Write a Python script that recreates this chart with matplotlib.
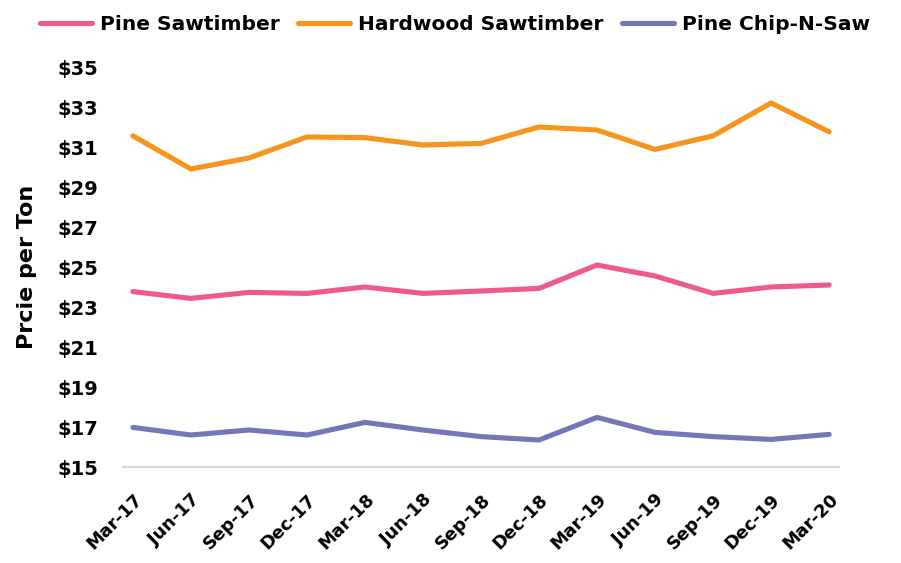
import matplotlib.pyplot as plt

# Quarterly stumpage prices
quarters = ['Mar-17', 'Jun-17', 'Sep-17', 'Dec-17', 'Mar-18', 'Jun-18', 'Sep-18',
            'Dec-18', 'Mar-19', 'Jun-19', 'Sep-19', 'Dec-19', 'Mar-20']
pine_saw = [23.77, 23.43, 23.73, 23.68, 24.00, 23.68, 23.80, 23.93, 25.10, 24.55, 23.68, 24.00, 24.10]
hardwood_saw = [31.56, 29.90, 30.45, 31.50, 31.47, 31.10, 31.18, 32.00, 31.85, 30.88, 31.56, 33.20, 31.76]
pine_cns = [16.98, 16.60, 16.85, 16.60, 17.23, 16.85, 16.52, 16.35, 17.48, 16.73, 16.52, 16.38, 16.63]

plt.rcParams['font.family'] = ['DejaVu Sans']
plt.rcParams['font.weight'] = 'bold'

fig = plt.figure(figsize=(9.01, 5.63), dpi=100)
ax = fig.add_axes([123 / 901, 96 / 563, 716 / 901, 400 / 563])

x = range(len(quarters))
ax.plot(x, pine_saw, color='#f05a8a', lw=3.7, solid_capstyle='round', label='Pine Sawtimber')
ax.plot(x, hardwood_saw, color='#f7941d', lw=3.7, solid_capstyle='round', label='Hardwood Sawtimber')
ax.plot(x, pine_cns, color='#7476b8', lw=3.7, solid_capstyle='round', label='Pine Chip-N-Saw')

ax.set_xlim(-0.17, 12.17)
ax.set_ylim(15, 35)
ax.set_yticks(range(15, 36, 2))
ax.set_yticklabels(['$%d' % v for v in range(15, 36, 2)], fontsize=14, fontweight='bold')
ax.set_xticks(list(x))
ax.set_xticklabels(quarters, rotation=45, ha='right', va='top', rotation_mode='anchor',
                   fontsize=12.8, fontweight='bold')
ax.tick_params(axis='y', length=0, pad=18)
ax.tick_params(axis='x', length=0, pad=17)

for s in ['top', 'right', 'left']:
    ax.spines[s].set_visible(False)
ax.spines['bottom'].set_color('#d9d9d9')
ax.spines['bottom'].set_linewidth(1.5)

ax.set_ylabel('Prcie per Ton', fontsize=16, fontweight='bold')
ax.yaxis.set_label_coords(-0.12, 0.5)

fig.legend(loc='upper center', bbox_to_anchor=(0.505, 1.005), ncol=3, frameon=False,
           prop={'size': 14.5, 'weight': 'bold'}, handlelength=2.6, handletextpad=0.4,
           columnspacing=0.9)

fig.savefig('out.png', dpi=100)
